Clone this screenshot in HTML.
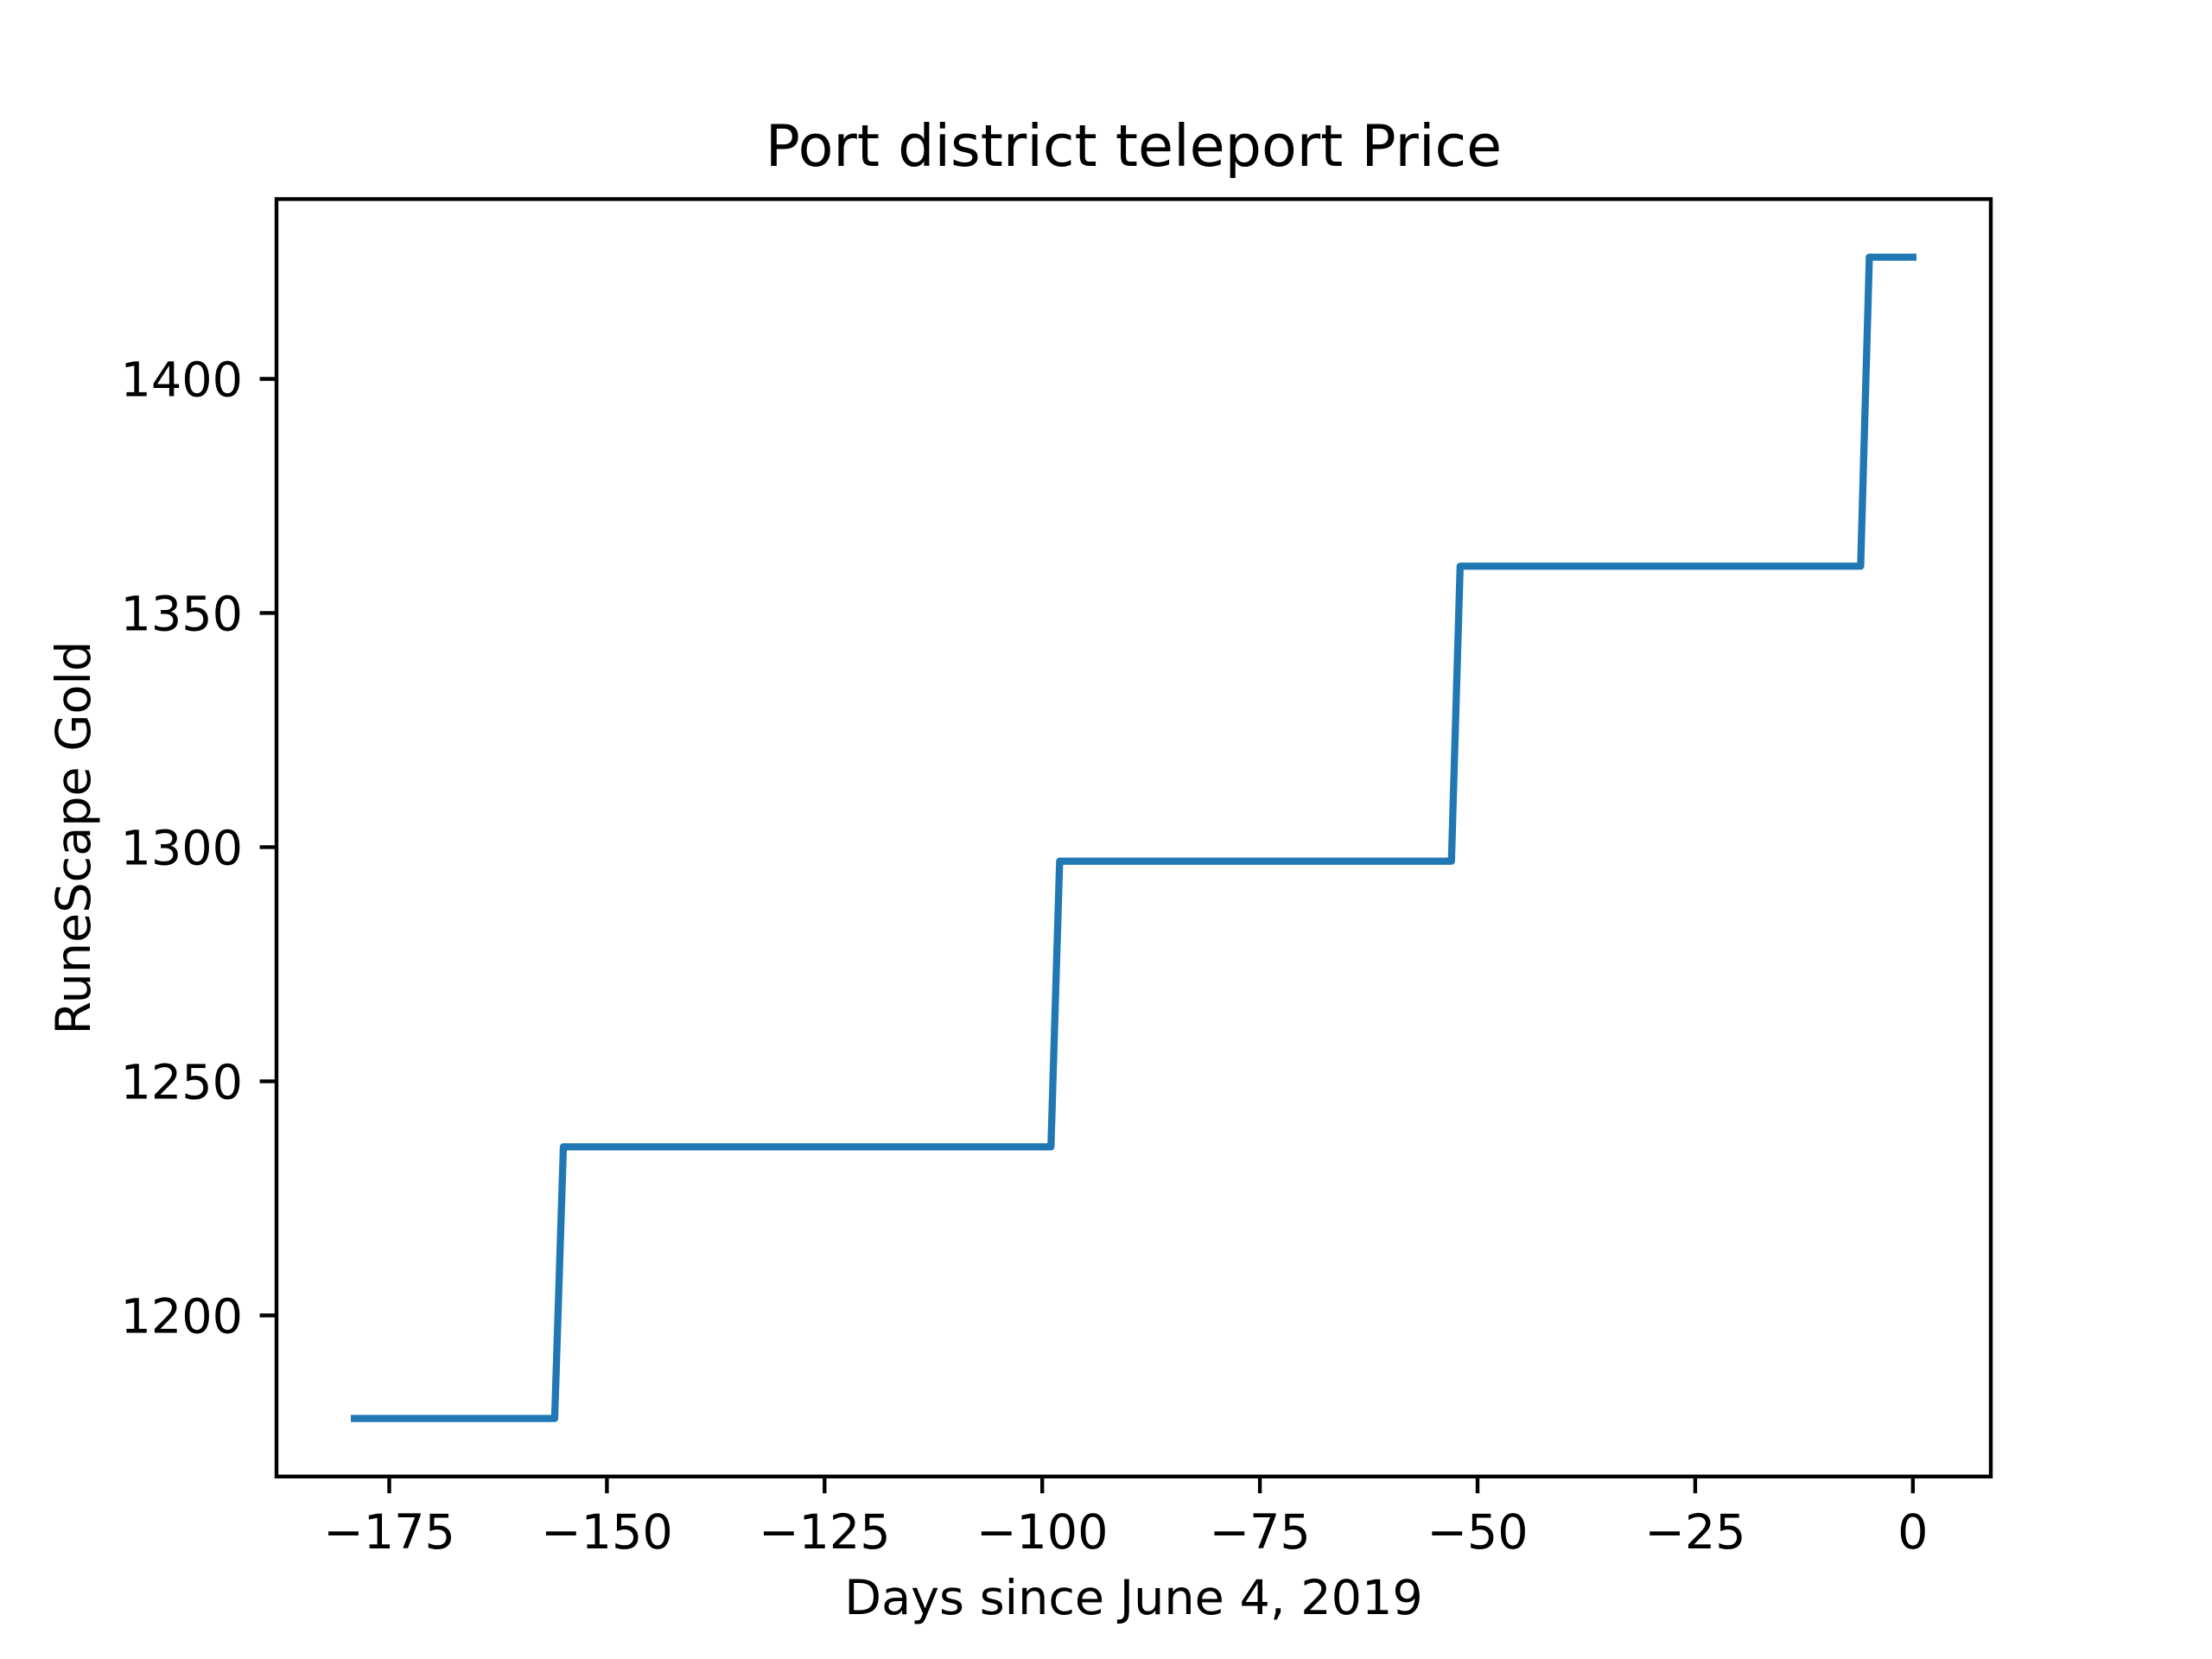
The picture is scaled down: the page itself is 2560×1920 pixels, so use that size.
<!DOCTYPE html>
<html><head><meta charset="utf-8"><style>
html,body{margin:0;padding:0;background:#fff;}
svg{display:block;font-family:"DejaVu Sans","Liberation Sans",sans-serif;}
</style></head><body>
<svg id="chart" width="2560" height="1920" viewBox="0 0 2560 1920" xmlns="http://www.w3.org/2000/svg">
<rect x="0" y="0" width="2560" height="1920" fill="#fff"/>
<text x="1312" y="192" font-size="66.7" text-anchor="middle" fill="#000">Port district teleport Price</text>
<g id="xticks"></g>
<g id="yticks"></g>
<path id="series" fill="none" stroke="#1f77b4" stroke-width="8.3" stroke-linejoin="round" stroke-linecap="square"/>
<rect x="320" y="230.4" width="1984" height="1478.4" fill="none" stroke="#000" stroke-width="4.4"/>
<text x="1312" y="1868" font-size="55.6" text-anchor="middle" fill="#000">Days since June 4, 2019</text>
<text transform="translate(104,969.6) rotate(-90)" font-size="55.6" text-anchor="middle" fill="#000">RuneScape Gold</text>
</svg>
<script>
const days = [-179, -156, -155, -99, -98, -53, -52, -6, -5, 0];
const prices = [1178, 1178, 1236, 1236, 1297, 1297, 1360, 1360, 1426, 1426];
const xTicks = [-175, -150, -125, -100, -75, -50, -25, 0];
const yTicks = [1200, 1250, 1300, 1350, 1400];

const L = 320, R = 2304, T = 230.4, B = 1708.8;
const xmin0 = Math.min(...days), xmax0 = Math.max(...days);
const ymin0 = Math.min(...prices), ymax0 = Math.max(...prices);
const xm = (xmax0 - xmin0) * 0.05, ym = (ymax0 - ymin0) * 0.05;
const xLo = xmin0 - xm, xHi = xmax0 + xm, yLo = ymin0 - ym, yHi = ymax0 + ym;
function sx(v){ return L + (v - xLo) / (xHi - xLo) * (R - L); }
function sy(v){ return B - (v - yLo) / (yHi - yLo) * (B - T); }
const NS = 'http://www.w3.org/2000/svg';

let d = '';
days.forEach((x, i) => { d += (i ? 'L' : 'M') + sx(x).toFixed(2) + ',' + sy(prices[i]).toFixed(2); });
document.getElementById('series').setAttribute('d', d);

const gx = document.getElementById('xticks');
xTicks.forEach(t => {
  const x = sx(t);
  const ln = document.createElementNS(NS, 'line');
  ln.setAttribute('x1', x); ln.setAttribute('x2', x);
  ln.setAttribute('y1', B); ln.setAttribute('y2', B + 19.4);
  ln.setAttribute('stroke', '#000'); ln.setAttribute('stroke-width', '4.4');
  
  
  gx.appendChild(ln);
  const tx = document.createElementNS(NS, 'text');
  tx.setAttribute('x', x); tx.setAttribute('y', 1792);
  tx.setAttribute('font-size', '55.6'); tx.setAttribute('text-anchor', 'middle');
  tx.textContent = t < 0 ? '\u2212' + Math.abs(t) : String(t);
  
  
  gx.appendChild(tx);
});
const gy = document.getElementById('yticks');
yTicks.forEach(t => {
  const y = sy(t);
  const ln = document.createElementNS(NS, 'line');
  ln.setAttribute('x1', L - 19.4); ln.setAttribute('x2', L);
  ln.setAttribute('y1', y); ln.setAttribute('y2', y);
  ln.setAttribute('stroke', '#000'); ln.setAttribute('stroke-width', '4.4');
  
  
  gy.appendChild(ln);
  const tx = document.createElementNS(NS, 'text');
  tx.setAttribute('x', L - 39); tx.setAttribute('y', y + 20);
  tx.setAttribute('font-size', '55.6'); tx.setAttribute('text-anchor', 'end');
  tx.textContent = String(t);
  
  
  gy.appendChild(tx);
});
</script>
</body></html>
